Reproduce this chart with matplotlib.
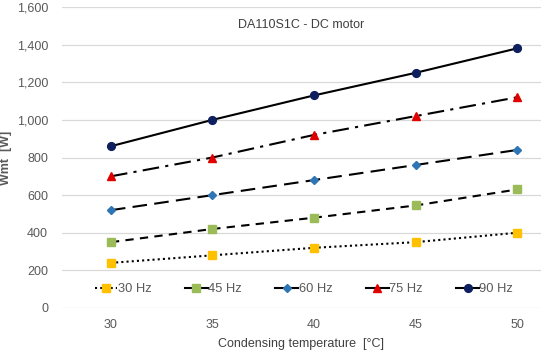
import matplotlib
matplotlib.use("Agg")
import matplotlib.pyplot as plt
from matplotlib.ticker import FuncFormatter
from matplotlib.lines import Line2D

plt.rcParams['font.family'] = ['Liberation Sans', 'DejaVu Sans']

temps = [30, 35, 40, 45, 50]
w30 = [240, 280, 320, 350, 400]
w45 = [350, 420, 480, 545, 630]
w60 = [520, 600, 680, 760, 840]
w75 = [700, 800, 920, 1020, 1120]
w90 = [860, 1000, 1130, 1250, 1380]
labels = ["30 Hz", "45 Hz", "60 Hz", "75 Hz", "90 Hz"]
yticks = [0, 200, 400, 600, 800, 1000, 1200, 1400, 1600]
xticks = [30, 35, 40, 45, 50]

series = [w30, w45, w60, w75, w90]
colors = ['#FFC000', '#9BBB59', '#2E75B6', '#E00000', '#0D1F5C']
markers = ['s', 's', 'D', '^', 'o']
msizes = [5.2, 5.2, 4.2, 5.8, 5.6]
styles = [(0, (1, 1.5)), (0, (4, 3)), (0, (7, 3.5)), (0, (8, 3, 1.5, 3)), '-']

fig = plt.figure(figsize=(5.42, 3.51), dpi=100)
ax = fig.add_axes([62/542, 1-308/351, (541-62)/542, 301/351])

handles = []
for vals, c, m, ms, ls, lab in zip(series, colors, markers, msizes, styles, labels):
    ax.plot(temps, vals, color='black', linestyle=ls, linewidth=1.5,
            marker=m, markersize=ms, markerfacecolor=c, markeredgecolor=c,
            zorder=3)
    hls = ls if lab == "30 Hz" else '-'
    handles.append(Line2D([], [], color='black', linestyle=hls, linewidth=1.5,
                          marker=m, markersize=ms, markerfacecolor=c,
                          markeredgecolor=c, label=lab))

ax.set_xlim(27.59, 51.18)
ax.set_ylim(0, 1600)
ax.set_xticks(xticks)
ax.set_yticks(yticks)
ax.yaxis.set_major_formatter(FuncFormatter(lambda v, p: f"{int(v):,}"))
ax.grid(axis='y', color='#D9D9D9', linewidth=0.9)
ax.set_axisbelow(True)
for s in ax.spines.values():
    s.set_visible(False)
ax.tick_params(length=0, colors='#595959', labelsize=9)
ax.tick_params(axis='x', pad=8)
ax.tick_params(axis='y', pad=10)

ax.set_xlabel("Condensing temperature  [°C]", fontsize=9, color='#404040', labelpad=5)
ax.set_ylabel("Wmt  [W]", fontsize=9, color='#595959', fontweight='bold')
ax.yaxis.set_label_coords(-0.105, 0.5)
ax.text(0.5, 0.94, "DA110S1C - DC motor", transform=ax.transAxes,
        ha='center', va='center', fontsize=9, color='#404040')

ax.legend(handles=handles, loc='center', bbox_to_anchor=(0.505, 0.063), ncol=5,
          frameon=False, fontsize=9.3, handlelength=1.75, handletextpad=0.05,
          columnspacing=2.6, labelcolor='#595959')

fig.savefig("out.png", dpi=100)
